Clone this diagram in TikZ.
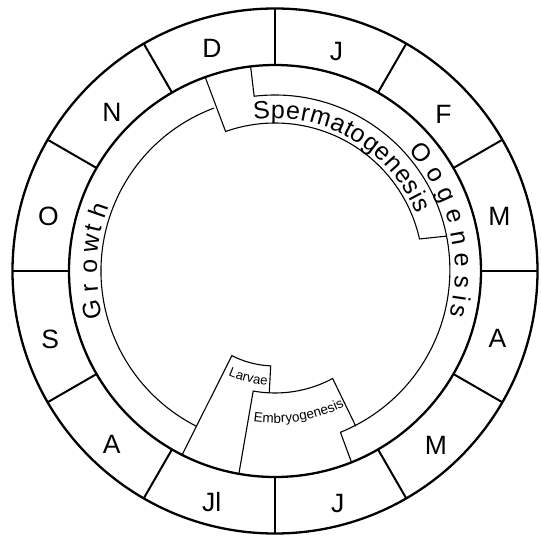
\documentclass[tikz,border=0pt]{standalone}
\usepackage{fontspec}
\setmainfont{Liberation Sans}
\usetikzlibrary{decorations.text}
\begin{document}
\begin{tikzpicture}[x=1pt,y=1pt,
  thickline/.style={line width=2.3pt},
  divider/.style={line width=2pt},
  thinline/.style={line width=1.1pt},
  month/.style={font=\fontsize{26.5}{30}\selectfont, inner sep=0pt},
  bandletter/.style={font=\fontsize{25}{30}\selectfont, inner sep=0pt, anchor=base},
]
\useasboundingbox (-275,-265) rectangle (266,271);
% month ring
\draw[thickline] (0,0) circle[radius=262.5pt];
\draw[thickline] (0,0) circle[radius=206pt];
\foreach \a in {0,30,...,330} \draw[divider] (\a:206) -- (\a:262.5);
% month labels
\node[month] (mD) at (105.8:231.2) {D};
\node[month] (mJa) at (74.4:228.4) {J};
\node[month] (mF) at (42.9:230) {F};
\node[month] (mMr) at (13.6:230.8) {M};
\node[month] (mAp) at (-16.8:232.5) {A};
\node[month] (mMy) at (-47.2:237) {M};
\node[month] (mJn) at (-74.9:240.5) {J};
\node[month] (mJl) at (-105.3:240) {Jl};
\node[month] (mAu) at (-133.2:238.5) {A};
\node[month] (mS) at (-163:235) {S};
\node[month] (mO) at (166.5:232.9) {O};
\node[month] (mN) at (135.7:227.7) {N};
% Growth band inner arc
\draw[thinline] (110.5:174) arc[start angle=110.5, end angle=243, radius=174pt];
% Spermatogenesis box
\draw[thinline] (109.8:206) -- (109.5:148) arc[start angle=109.5, end angle=12.5, radius=148pt] -- (11.5:175);
% Oogenesis inner arc
\draw[thinline] (96.8:206) -- (96.8:176) arc[start angle=96.8, end angle=-68, radius=175pt] -- (-68.2:206);
% Larvae box
\draw[thinline] (-116.8:206) -- (-117:95) arc[start angle=-117, end angle=-92.6, radius=95pt] -- (-92.7:122);
% Embryogenesis box
\draw[thinline] (-100.1:206) -- (-100.3:122) arc[start angle=-100.3, end angle=-61.8, radius=122pt] -- (-62.5:175);
% Growth letters
\foreach \ch/\ang [count=\i] in {G/192.1, r/185.3, o/178.7, w/171.4, t/166.8, h/160.9}
  \node[bandletter, rotate=\ang-90] (gr\i) at (\ang:178) {\ch};
% Oogenesis letters
\foreach \ch/\ang [count=\i] in {O/38.9, o/31.1, g/24, e/17, n/10.2, e/3.4, s/-3.3, i/-8.3, s/-12.3}
  \node[bandletter, rotate=\ang-90] (oo\i) at (\ang:180) {\ch};
% Spermatogenesis text
\path[decorate, decoration={text along path, text={|\fontsize{25}{28}\selectfont|Spermatogenesis}, text align=fit to path}]
  (98:152.5) arc[start angle=98, end angle=22, radius=152.5pt];
% Embryogenesis text
\path[decorate, decoration={text along path, text={|\fontsize{13.5}{16}\selectfont|Embryogenesis}, text align=fit to path}]
  (-98.2:152) arc[start angle=-98.2, end angle=-62.8, radius=152pt];
% Larvae text
\path[decorate, decoration={text along path, text={|\fontsize{13.2}{16}\selectfont|Larvae}, text align=center}]
  (-114.5:114.5) arc[start angle=-114.5, end angle=-93.5, radius=114.5pt];
\end{tikzpicture}
\end{document}
